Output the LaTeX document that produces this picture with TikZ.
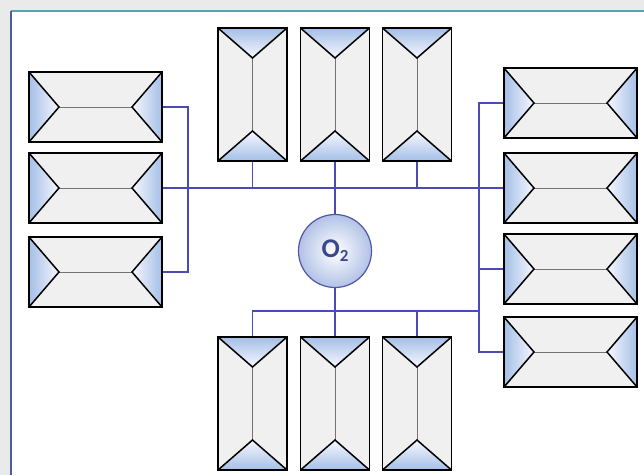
\documentclass[tikz,border=0pt]{standalone}
\usepackage{fontspec}
\setsansfont{Carlito}
\usetikzlibrary{calc}

\definecolor{pagegray}{HTML}{EAEAEA}
\definecolor{boxgray}{HTML}{F0F0F0}
\definecolor{triblue}{HTML}{A4BFE6}
\definecolor{wireblue}{HTML}{4A4AB2}
\definecolor{frameteal}{HTML}{5AA0B6}
\definecolor{frameblue}{HTML}{4C5AA8}
\definecolor{ringblue}{HTML}{5058A8}
\definecolor{ballblue}{HTML}{B2C2E6}
\definecolor{textblue}{HTML}{3B478C}

\tikzset{
  wire/.style={draw=wireblue, line width=1.4pt},
  % envelope lying flat: shaded triangles at left and right
  envwide/.style={
    draw=black, line width=1.5pt, fill=boxgray,
    minimum width=133pt, minimum height=70pt, inner sep=0pt,
    path picture={
      \coordinate (nw) at (path picture bounding box.north west);
      \coordinate (sw) at (path picture bounding box.south west);
      \coordinate (ne) at (path picture bounding box.north east);
      \coordinate (se) at (path picture bounding box.south east);
      \coordinate (tl) at ($(path picture bounding box.west)+(30pt,0pt)$);
      \coordinate (tr) at ($(path picture bounding box.east)+(-30pt,0pt)$);
      \shade[left color=triblue, right color=blue!3] (nw) -- (tl) -- (sw) -- cycle;
      \shade[right color=triblue, left color=blue!3] (ne) -- (tr) -- (se) -- cycle;
      \draw[black!55, line width=1pt] (tl) -- (tr);
      \draw[black, line width=1.5pt] (nw) -- (tl) -- (sw) (ne) -- (tr) -- (se);
    }},
  % envelope standing upright: shaded triangles at top and bottom
  envtall/.style={
    draw=black, line width=1.5pt, fill=boxgray,
    minimum width=69pt, minimum height=133pt, inner sep=0pt,
    path picture={
      \coordinate (nw) at (path picture bounding box.north west);
      \coordinate (sw) at (path picture bounding box.south west);
      \coordinate (ne) at (path picture bounding box.north east);
      \coordinate (se) at (path picture bounding box.south east);
      \coordinate (tt) at ($(path picture bounding box.north)+(0pt,-30pt)$);
      \coordinate (tb) at ($(path picture bounding box.south)+(0pt,30pt)$);
      \shade[top color=triblue, bottom color=blue!3] (nw) -- (tt) -- (ne) -- cycle;
      \shade[bottom color=triblue, top color=blue!3] (sw) -- (tb) -- (se) -- cycle;
      \draw[black!55, line width=1pt] (tt) -- (tb);
      \draw[black, line width=1.5pt] (nw) -- (tt) -- (ne) (sw) -- (tb) -- (se);
    }},
  hub/.style={circle, draw=ringblue, line width=1.2pt,
    inner color=white, outer color=ballblue,
    minimum size=73pt, inner sep=0pt,
    font=\sffamily\bfseries\fontsize{27}{29}\selectfont, text=textblue}
}

\begin{document}
\begin{tikzpicture}[x=1pt, y=-1pt]
  \useasboundingbox (0,0) rectangle (644,475);
  % page background and white panel
  \fill[pagegray] (0,0) rectangle (644,475);
  \fill[white] (11,11) rectangle (644,475);
  \draw[frameteal, line width=1.3pt] (11,11) -- (644,11);
  \draw[frameblue, line width=1.6pt] (11,11) -- (11,475);

  % left column
  \node[envwide] (L1) at (95.5,107) {};
  \node[envwide] (L2) at (95.5,188) {};
  \node[envwide] (L3) at (95.5,272) {};
  % right column
  \node[envwide] (R1) at (570.5,103) {};
  \node[envwide] (R2) at (570.5,188) {};
  \node[envwide] (R3) at (570.5,269) {};
  \node[envwide] (R4) at (570.5,352) {};
  % top row
  \node[envtall] (T1) at (252.5,94.5) {};
  \node[envtall] (T2) at (335,94.5) {};
  \node[envtall] (T3) at (417,94.5) {};
  % bottom row
  \node[envtall] (B1) at (252.5,403.5) {};
  \node[envtall] (B2) at (335,403.5) {};
  \node[envtall] (B3) at (417,403.5) {};

  % oxygen hub
  \node[hub] (O2) at (335,251) {O\raisebox{-0.3ex}{\fontsize{17}{17}\selectfont 2}};

  % junction points of the distribution lines
  \coordinate (jl) at (188,188);
  \coordinate (jr) at (479,188);
  \coordinate (jb) at (479,311);

  % upper bus
  \draw[wire] (L1.east) -| (jl) |- (L3.east);
  \draw[wire] (L2.east) -- (jl) -- (jr) -- (R2.west);
  \draw[wire] (T1.south) -- (T1.south |- jl);
  \draw[wire] (T3.south) -- (T3.south |- jl);
  \draw[wire] (T2.south) -- (O2.north);
  % right riser
  \draw[wire] (R1.west) -| (jb) |- (R4.west);
  \draw[wire] (R3.west) -- (R3.west -| jr);
  % lower bus
  \draw[wire] (B1.north) |- (jb);
  \draw[wire] (B3.north) -- (B3.north |- jb);
  \draw[wire] (O2.south) -- (B2.north);
\end{tikzpicture}
\end{document}
